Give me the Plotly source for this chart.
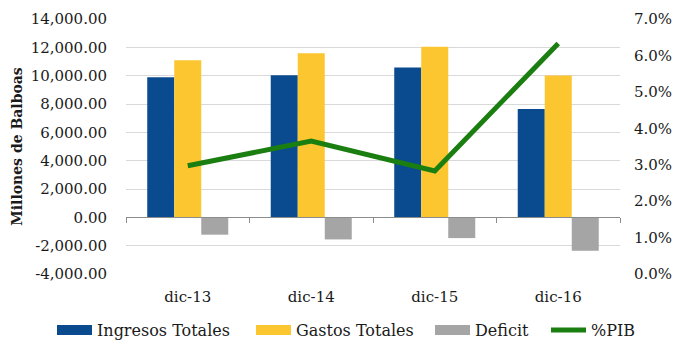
import plotly.graph_objects as go

# Fiscal balance, millions of Balboas, and deficit as % of GDP
periods = ["dic-13", "dic-14", "dic-15", "dic-16"]
ingresos = [9890, 10030, 10570, 7645]
gastos = [11095, 11590, 12035, 10005]
deficit = [-1225, -1560, -1465, -2360]
pib_pct = [0.0297, 0.0365, 0.0283, 0.0633]

y_ticks = list(range(-4000, 14001, 2000))
y_ticktext = [f"{v:,.2f}" for v in y_ticks]

C_ING = "#0a4a8f"
C_GAS = "#fcc630"
C_DEF = "#a5a5a5"
C_PIB = "#1a7f10"
FONT = "DejaVu Serif"

PLOT_L, PLOT_W = 126, 494

fig = go.Figure()

for name, vals, col in [("Ingresos Totales", ingresos, C_ING),
                        ("Gastos Totales", gastos, C_GAS),
                        ("Deficit", deficit, C_DEF)]:
    fig.add_trace(go.Bar(x=periods, y=vals, name=name, marker_color=col,
                         marker_line_width=0, showlegend=False))

fig.add_trace(go.Scatter(x=periods, y=pib_pct, name="%PIB", mode="lines",
                         line=dict(color=C_PIB, width=5), xaxis="x2",
                         yaxis="y2", showlegend=False))

# one legend box per series so each entry sits at its own spot in the row
legend_entries = [("Ingresos Totales", C_ING, 11, 52),
                  ("Gastos Totales", C_GAS, 11, 251),
                  ("Deficit", C_DEF, 11, 430),
                  ("%PIB", C_PIB, 5, 546)]
legend_layout = {}
for i, (name, col, w, left_px) in enumerate(legend_entries):
    key = "legend" if i == 0 else f"legend{i + 1}"
    fig.add_trace(go.Scatter(x=[None], y=[None], name=name, mode="lines",
                             line=dict(color=col, width=w), showlegend=True,
                             legend=key))
    legend_layout[key] = dict(orientation="h", x=(left_px - PLOT_L) / PLOT_W,
                              xanchor="left", y=(274 - 330) / 255,
                              yanchor="middle",
                              font=dict(family=FONT, size=16),
                              itemwidth=35, bgcolor="rgba(0,0,0,0)")

fig.update_layout(
    width=677, height=341,
    margin=dict(l=126, r=57, t=19, b=67, autoexpand=False),
    paper_bgcolor="white", plot_bgcolor="white",
    font=dict(family=FONT, size=15, color="#1a1a1a"),
    barmode="group", bargap=0.344, bargroupgap=0,
    showlegend=True,
    xaxis=dict(type="category", showline=False, ticks="", showgrid=False,
               ticklabelstandoff=12, fixedrange=True),
    xaxis2=dict(type="category", matches="x", overlaying="x", anchor="free",
                position=4000 / 18000, showline=True, linecolor="#8c8c8c",
                linewidth=1, ticks="outside", tickson="boundaries", ticklen=5,
                tickcolor="#8c8c8c", showticklabels=False, showgrid=False),
    yaxis=dict(range=[-4000, 14000], tickvals=y_ticks, ticktext=y_ticktext,
               showgrid=True, gridcolor="#d9d9d9", gridwidth=1, zeroline=False,
               showline=False, ticks="", ticklabelstandoff=18,
               title=dict(text="<b>Millones de Balboas</b>", standoff=4,
                          font=dict(size=14))),
    yaxis2=dict(range=[0, 0.07], dtick=0.01, tickformat=".1%", side="right",
                overlaying="y", anchor="x2", showgrid=False, zeroline=False,
                showline=False, ticks="", ticklabelstandoff=13),
    **legend_layout,
)

fig.write_html("out.html")
